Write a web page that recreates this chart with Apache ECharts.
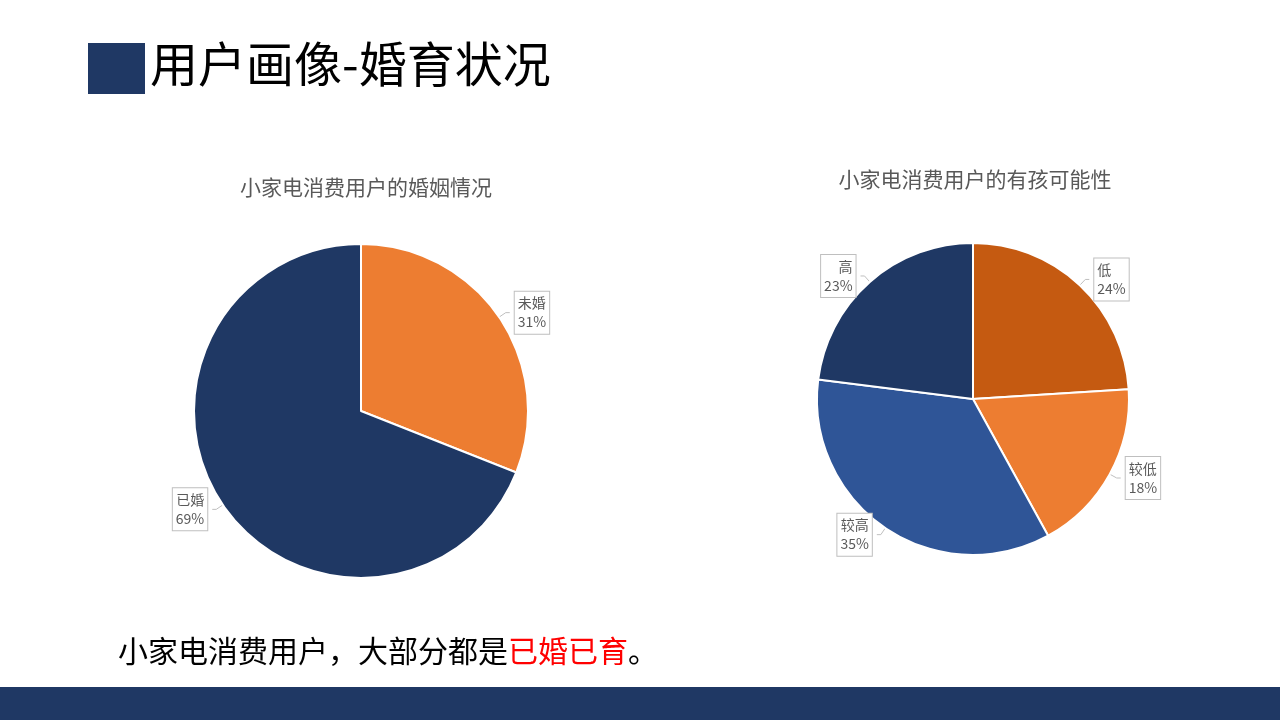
<!DOCTYPE html>
<html>
<head>
<meta charset="utf-8">
<style>html,body{margin:0;padding:0;background:#fff}#main{width:1280px;height:720px}</style>
<script src="https://cdn.jsdelivr.net/npm/echarts@6/dist/echarts.min.js"></script>
</head>
<body>
<div id="main"></div>
<script>
var marriageNames = ['未婚', '已婚'];
var marriageValues = [31, 69];
var marriageColors = ['#ED7D31', '#1F3864'];

var childNames = ['低', '较低', '较高', '高'];
var childValues = [24, 18, 35, 23];
var childColors = ['#C55A11', '#ED7D31', '#2F5597', '#1F3864'];

var font = '"Noto Sans CJK SC", "Noto Sans", sans-serif';

function pieData(names, values, colors) {
  return names.map(function (n, i) {
    return { name: n, value: values[i], itemStyle: { color: colors[i] } };
  });
}

var labelStyle = {
  show: true,
  position: 'outside',
  formatter: '{b}\n{d}%',
  color: '#595959',
  fontSize: 14,
  fontFamily: font,
  lineHeight: 19,
  backgroundColor: '#fff',
  borderColor: '#BFBFBF',
  borderWidth: 1,
  padding: [2, 3]
};

var chart = echarts.init(document.getElementById('main'));
chart.setOption({
  animation: false,
  textStyle: { fontFamily: font },
  title: [
    { text: '小家电消费用户的婚姻情况', left: 361, top: 172, textAlign: 'center',
      textStyle: { color: '#595959', fontSize: 21, fontWeight: 'normal', fontFamily: font } },
    { text: '小家电消费用户的有孩可能性', left: 970, top: 164, textAlign: 'center',
      textStyle: { color: '#595959', fontSize: 21, fontWeight: 'normal', fontFamily: font } }
  ],
  graphic: [
    { type: 'rect', shape: { x: 88, y: 43, width: 57, height: 51 }, style: { fill: '#1F3864' } },
    { type: 'text', left: 150, top: 40, style: { text: '用户画像-婚育状况', fill: '#000', fontSize: 48, fontFamily: font } },
    { type: 'text', left: 118, top: 636, style: {
        text: '{a|小家电消费用户，大部分都是}{b|已婚已育}{a|。}',
        rich: { a: { fill: '#000', fontSize: 30, fontFamily: font }, b: { fill: '#FF0000', fontSize: 30, fontFamily: font } } } },
    { type: 'rect', shape: { x: 0, y: 687, width: 1280, height: 33 }, style: { fill: '#1F3864' } }
  ],
  series: [
    {
      type: 'pie', center: [361, 411], radius: 167, startAngle: 90, clockwise: true,
      itemStyle: { borderColor: '#fff', borderWidth: 2 },
      label: labelStyle,
      labelLine: { show: true, length: 8, length2: 4, lineStyle: { color: '#BFBFBF' } },
      data: pieData(marriageNames, marriageValues, marriageColors)
    },
    {
      type: 'pie', center: [973, 399], radius: 156, startAngle: 90, clockwise: true,
      itemStyle: { borderColor: '#fff', borderWidth: 2 },
      label: labelStyle,
      labelLine: { show: true, length: 8, length2: 4, lineStyle: { color: '#BFBFBF' } },
      data: pieData(childNames, childValues, childColors)
    }
  ]
});
</script>
</body>
</html>
